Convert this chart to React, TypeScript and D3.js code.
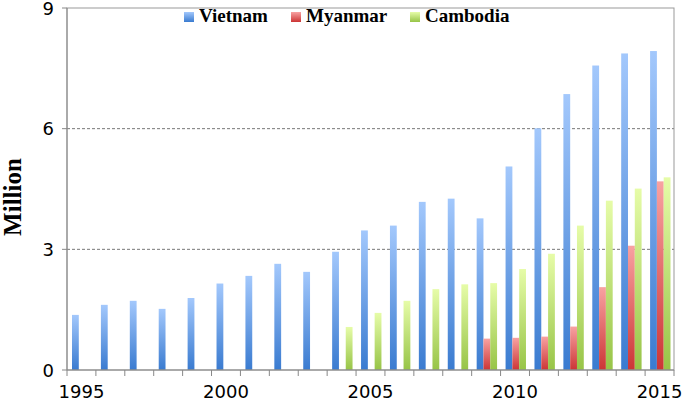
import React from 'react';
import * as d3 from 'd3';

const years = d3.range(1995, 2016).map(String);
const seriesNames = ['Vietnam', 'Myanmar', 'Cambodia'];

const vietnam = [1.37, 1.62, 1.72, 1.52, 1.79, 2.15, 2.34, 2.64, 2.44, 2.94, 3.47, 3.59, 4.18, 4.26, 3.77, 5.06, 6.01, 6.86, 7.57, 7.87, 7.93];
const myanmar = [null, null, null, null, null, null, null, null, null, null, null, null, null, null, 0.78, 0.8, 0.83, 1.08, 2.06, 3.09, 4.69];
const cambodia = [null, null, null, null, null, null, null, null, null, 1.07, 1.42, 1.72, 2.01, 2.13, 2.16, 2.51, 2.89, 3.59, 4.21, 4.51, 4.79];

const xLabels = ['1995', '2000', '2005', '2010', '2015'];
const yTicks = [0, 3, 6, 9];

const colors = {
  Vietnam: ['#a3c8fc', '#3a7bd0'],
  Myanmar: ['#f8a2a2', '#cc3535'],
  Cambodia: ['#e6fca8', '#97c447'],
};

const W = 685;
const H = 401;
const left = 67, right = 674, top = 8, bottom = 370;

const App = () => {
  const x = d3.scaleBand<string>().domain(years).range([left, right]);
  const bw = x.bandwidth();
  const xs = d3.scaleBand<string>().domain(seriesNames).range([5, 25.4]);
  const y = d3.scaleLinear().domain([0, 9]).range([bottom, top]);

  const seriesData: Record<string, (number | null)[]> = {
    Vietnam: vietnam,
    Myanmar: myanmar,
    Cambodia: cambodia,
  };

  const legendX = [184, 291, 410];
  const boundaries = d3.range(years.length + 1).map(i => left + i * bw);

  return (
    <svg width={W} height={H} style={{ position: 'absolute', left: 0, top: 0, background: '#fff' }}>
      <defs>
        {seriesNames.map(s => (
          <linearGradient key={s} id={`g-${s}`} x1="0" y1="0" x2="0" y2="1">
            <stop offset="0%" stopColor={colors[s][0]} />
            <stop offset="100%" stopColor={colors[s][1]} />
          </linearGradient>
        ))}
      </defs>

      {/* grid */}
      {yTicks.filter(t => t > 0 && t < 9).map(t => (
        <line key={t} x1={left} x2={right} y1={y(t)} y2={y(t)} stroke="#777" strokeDasharray="3,2" />
      ))}

      {/* bars */}
      {seriesNames.map(s =>
        seriesData[s].map((v, i) =>
          v == null ? null : (
            <rect
              key={s + i}
              x={(x(years[i]) as number) + (xs(s) as number)}
              y={y(v)}
              width={xs.bandwidth()}
              height={bottom - y(v)}
              fill={`url(#g-${s})`}
            />
          )
        )
      )}

      {/* frame */}
      <rect x={left} y={top} width={right - left} height={bottom - top} fill="none" stroke="#999" />
      <line x1={left} x2={left} y1={top} y2={bottom} stroke="#888" />
      <line x1={left} x2={right} y1={bottom} y2={bottom} stroke="#888" />

      {/* x ticks */}
      {boundaries.map((b, i) => (
        <line key={i} x1={b} x2={b} y1={bottom} y2={bottom + 6} stroke="#888" />
      ))}
      {xLabels.map(l => (
        <text key={l} x={(x(l) as number) + bw / 2} y={398} textAnchor="middle"
          fontFamily="DejaVu Sans" fontSize={18} fill="#000">{l}</text>
      ))}

      {/* y ticks */}
      {yTicks.map(t => (
        <g key={t}>
          <line x1={left - 5} x2={left} y1={y(t)} y2={y(t)} stroke="#888" />
          <text x={54} y={Math.max(y(t) + 6.5, 15)} textAnchor="end" fontFamily="DejaVu Sans" fontSize={18} fill="#000">{t}</text>
        </g>
      ))}

      <text transform="translate(21,197) rotate(-90)" textAnchor="middle"
        fontFamily="Liberation Serif" fontWeight="bold" fontSize={25} fill="#000">Million</text>

      {/* legend */}
      {seriesNames.map((s, i) => (
        <g key={s} transform={`translate(${legendX[i]},0)`}>
          <rect x={0} y={12} width={10} height={10} fill={`url(#g-${s})`} />
          <text x={15} y={22} fontFamily="Liberation Serif" fontWeight="bold" fontSize={19} fill="#000">{s}</text>
        </g>
      ))}
    </svg>
  );
};

export default App;
